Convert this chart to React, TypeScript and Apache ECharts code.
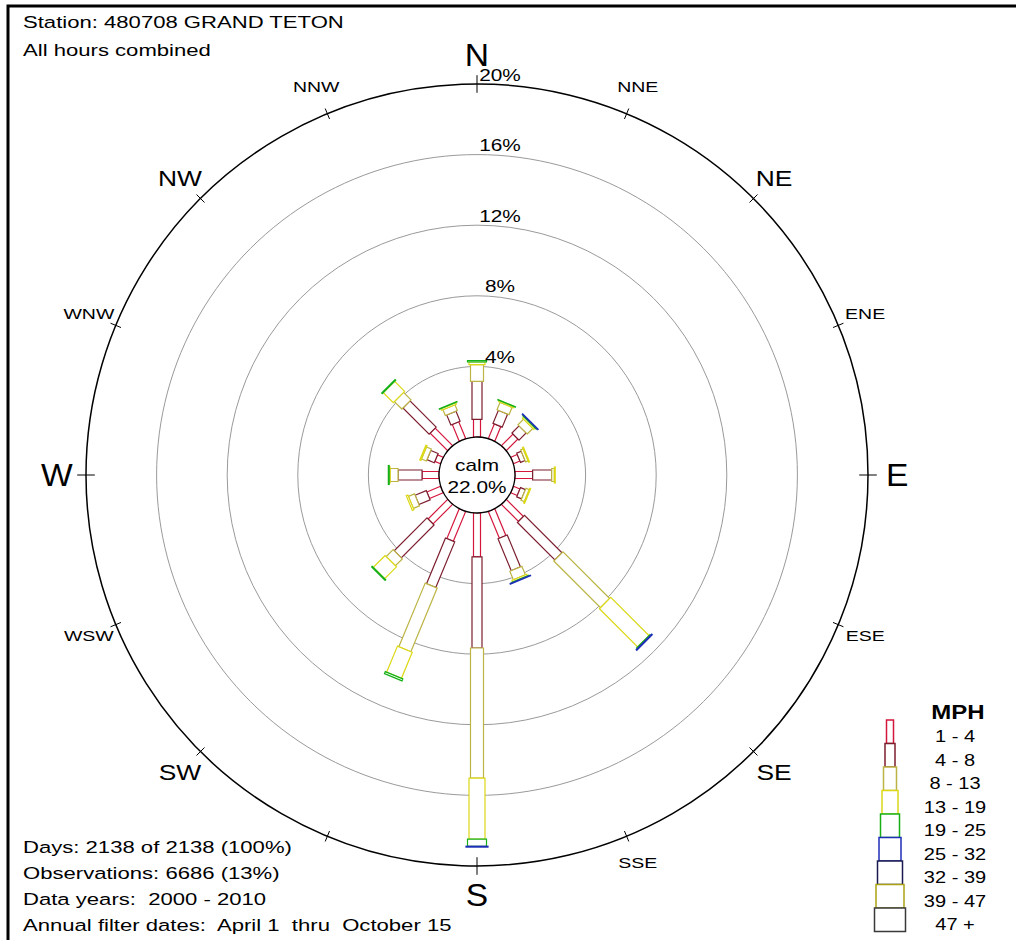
import React, { useEffect, useRef } from "react";
import * as echarts from "echarts";

// ---------- data ----------
const directions = ["N", "NNE", "NE", "ENE", "E", "ESE", "SE", "SSE", "S", "SSW", "SW", "WSW", "W", "WNW", "NW", "NNW"];
const directionLabels = ["N", "NNE", "NE", "ENE", "E", "ESE", "SE", "SSE", "S", "", "SW", "WSW", "W", "WNW", "NW", "NNW"];
const directionAngles = [0, 22.5, 45, 67.5, 90, 112.5, 135, 157.5, 180, 202.5, 225, 247.5, 270, 292.5, 315, 337.5];
const speedClasses = ["1 - 4", "4 - 8", "8 - 13", "13 - 19", "19 - 25", "25 - 32", "32 - 39", "39 - 47", "47 +"];

// percent of observations, per direction (N .. NNW)
const mph1_4 = [1.0, 0.9, 0.93, 0.4, 1.0, 0.4, 1.37, 1.64, 2.49, 1.83, 1.57, 0.84, 0.96, 0.35, 1.4, 1.03];
const mph4_8 = [2.15, 0.8, 0.57, 0.28, 1.08, 0.3, 3.0, 1.96, 5.16, 2.8, 2.63, 0.69, 1.36, 0.45, 2.1, 0.62];
const mph8_13 = [0.95, 0.45, 0.45, 0.15, 0.15, 0.2, 3.74, 0.52, 7.37, 3.9, 0.55, 0.37, 0.45, 0.3, 0.6, 0.35];
const mph13_19 = [0.15, 0.08, 0.1, 0.05, 0.05, 0.05, 3.06, 0.1, 3.46, 1.6, 0.95, 0.1, 0.05, 0.07, 0.8, 0.1];
const mph19_25 = [0.08, 0.02, 0.05, 0, 0, 0, 0.05, 0.03, 0.4, 0.12, 0.05, 0, 0.05, 0, 0.05, 0.03];
const mph25_32 = [0, 0, 0.03, 0, 0, 0, 0.05, 0.03, 0.05, 0, 0, 0, 0, 0, 0, 0];
const mph32_39 = [0, 0, 0, 0, 0, 0, 0, 0, 0, 0, 0, 0, 0, 0, 0, 0];
const mph39_47 = [0, 0, 0, 0, 0, 0, 0, 0, 0, 0, 0, 0, 0, 0, 0, 0];
const mph47_plus = [0, 0, 0, 0, 0, 0, 0, 0, 0, 0, 0, 0, 0, 0, 0, 0];

const calmPercent = 22.0;
const ringValues = [4, 8, 12, 16];
const ringLabelValues = [4, 8, 12, 16, 20];
const ringLabels = ["4%", "8%", "12%", "16%", "20%"];

const headerLines = ["Station: 480708 GRAND TETON", "All hours combined"];
const footerLines = [
  "Days: 2138 of 2138 (100%)",
  "Observations: 6686 (13%)",
  "Data years:  2000 - 2010",
  "Annual filter dates:  April 1  thru  October 15",
];

// ---------- style ----------
const classValues = [mph1_4, mph4_8, mph8_13, mph13_19, mph19_25, mph25_32, mph32_39, mph39_47, mph47_plus];
const classColors = ["#d4163c", "#7c1e2e", "#bcb444", "#dcd814", "#16b016", "#1e2eb8", "#1a1a52", "#aaa214", "#3a3a3a"];
const barWidths = [7, 10, 13, 16, 19, 22, 25, 28, 31];
const FONT = '"Liberation Sans", Arial, sans-serif';
const RMIN = -2.153;
const RMAX = 20;
const LABEL_R = 21.65;

function txtStyle(text: string, size: number, align: string, valign: string, weight = "normal", fill = "#000") {
  return {
    text,
    x: 0,
    y: 0,
    font: `${weight} ${size}px ${FONT}`,
    fill,
    align,
    verticalAlign: valign,
    textAlign: align,
    textVerticalAlign: valign,
  };
}

function buildOption() {
  const barSeries = classValues.map((vals, k) => {
    const data: number[][] = [];
    directions.forEach((_, d) => {
      let start = 0;
      for (let j = 0; j < k; j++) start += classValues[j][d];
      const v = vals[d];
      if (v > 0) data.push([start + v, directionAngles[d], start]);
    });
    return {
      type: "custom",
      name: speedClasses[k],
      coordinateSystem: "polar",
      silent: true,
      z: 3,
      data,
      renderItem: (params: any, api: any) => {
        const end = api.value(0);
        const ang = api.value(1);
        const start = api.value(2);
        const c = api.coord([RMIN, ang]);
        const far = api.coord([RMAX, ang]);
        const p0 = api.coord([start, ang]);
        const p1 = api.coord([end, ang]);
        const dx = far[0] - c[0];
        const dy = far[1] - c[1];
        const len = Math.sqrt(dx * dx + dy * dy) || 1;
        const nx = (-dy / len) * (barWidths[k] / 2);
        const ny = (dx / len) * (barWidths[k] / 2);
        return {
          type: "polygon",
          shape: {
            points: [
              [p0[0] + nx, p0[1] + ny],
              [p1[0] + nx, p1[1] + ny],
              [p1[0] - nx, p1[1] - ny],
              [p0[0] - nx, p0[1] - ny],
            ],
          },
          style: { fill: "#fff", stroke: classColors[k], lineWidth: 1.2 },
        };
      },
    };
  });

  const ringSeries = {
    type: "custom",
    coordinateSystem: "polar",
    silent: true,
    z: 1,
    data: ringValues.map((v) => [v, 0]),
    renderItem: (params: any, api: any) => {
      const c = api.coord([RMIN, 0]);
      const p = api.coord([api.value(0), 0]);
      const r = Math.hypot(p[0] - c[0], p[1] - c[1]);
      return {
        type: "circle",
        shape: { cx: c[0], cy: c[1], r },
        style: { fill: "none", stroke: "#9a9a9a", lineWidth: 1 },
      };
    },
  };

  const ringLabelSeries = {
    type: "custom",
    coordinateSystem: "polar",
    silent: true,
    z: 4,
    data: ringLabelValues.map((v, i) => [v, 0, i]),
    renderItem: (params: any, api: any) => {
      const p = api.coord([api.value(0), 0]);
      return {
        type: "text",
        x: p[0] + 23,
        y: p[1] - 1,
        scaleX: 1.3,
        style: txtStyle(ringLabels[api.value(2)], 16, "center", "bottom"),
      };
    },
  };

  const tickSeries = {
    type: "custom",
    coordinateSystem: "polar",
    silent: true,
    z: 2,
    data: directionAngles.map((a, i) => [RMAX, a, i % 4 === 0 ? 1 : 0]),
    renderItem: (params: any, api: any) => {
      const ang = api.value(1);
      const h = api.value(2) ? 0.5 : 0.32;
      const a = api.coord([RMAX - h, ang]);
      const b = api.coord([RMAX + h, ang]);
      return {
        type: "line",
        shape: { x1: a[0], y1: a[1], x2: b[0], y2: b[1] },
        style: { stroke: "#000", lineWidth: 1 },
      };
    },
  };

  const dirLabelSeries = {
    type: "custom",
    coordinateSystem: "polar",
    silent: true,
    z: 2,
    data: directionAngles.map((a, i) => [LABEL_R, a, i]),
    renderItem: (params: any, api: any) => {
      const i = api.value(2);
      const p = api.coord([api.value(0), api.value(1)]);
      const size = i % 4 === 0 ? 32 : i % 2 === 0 ? 22 : 15;
      const sx = i % 4 === 0 ? 1.05 : i % 2 === 0 ? 1.2 : 1.3;
      return {
        type: "text",
        x: p[0],
        y: p[1],
        scaleX: sx,
        style: txtStyle(directionLabels[i], size, "center", "middle"),
      };
    },
  };

  const calmSeries = {
    type: "custom",
    coordinateSystem: "polar",
    silent: true,
    z: 6,
    data: [[0, 0]],
    renderItem: (params: any, api: any) => {
      const c = api.coord([RMIN, 0]);
      const p = api.coord([0, 0]);
      const r = Math.hypot(p[0] - c[0], p[1] - c[1]);
      return {
        type: "group",
        children: [
          {
            type: "circle",
            shape: { cx: c[0], cy: c[1], r },
            style: { fill: "#fff", stroke: "#000", lineWidth: 1.3 },
          },
          {
            type: "text",
            x: c[0],
            y: c[1] - 10,
            scaleX: 1.3,
            style: txtStyle("calm", 16, "center", "middle"),
          },
          {
            type: "text",
            x: c[0],
            y: c[1] + 12,
            scaleX: 1.3,
            style: txtStyle(calmPercent.toFixed(1) + "%", 16, "center", "middle"),
          },
        ],
      };
    },
  };

  const graphics: any[] = [
    {
      type: "rect",
      silent: true,
      shape: { x: 8, y: 6, width: 1040, height: 960 },
      style: { fill: "none", stroke: "#000", lineWidth: 3 },
    },
  ];
  headerLines.forEach((t, i) => {
    graphics.push({
      type: "text",
      silent: true,
      x: 23,
      y: 22 + i * 28,
      scaleX: 1.3,
      style: txtStyle(t, 17, "left", "middle"),
    });
  });
  footerLines.forEach((t, i) => {
    graphics.push({
      type: "text",
      silent: true,
      x: 23,
      y: 847 + i * 26,
      scaleX: 1.3,
      style: txtStyle(t, 17, "left", "middle"),
    });
  });
  // legend
  const legTop = 720;
  const legStep = 23.5;
  const legCx = 890;
  graphics.push({
    type: "text",
    silent: true,
    x: 958,
    y: 712,
    scaleX: 1.2,
    style: txtStyle("MPH", 20, "center", "middle", "bold"),
  });
  speedClasses.forEach((name, i) => {
    const w = barWidths[i];
    graphics.push({
      type: "rect",
      silent: true,
      shape: { x: legCx - w / 2, y: legTop + i * legStep, width: w, height: legStep },
      style: { fill: "#fff", stroke: classColors[i], lineWidth: 1.5 },
    });
    graphics.push({
      type: "text",
      silent: true,
      x: 955,
      y: legTop + i * legStep + 17,
      scaleX: 1.25,
      style: txtStyle(name, 16, "center", "middle"),
    });
  });

  return {
    animation: false,
    backgroundColor: "#fff",
    polar: { center: [477, 475], radius: 391 },
    angleAxis: {
      type: "value",
      min: 0,
      max: 360,
      startAngle: 90,
      clockwise: true,
      axisLine: { show: true, lineStyle: { color: "#000", width: 1.5 } },
      axisTick: { show: false },
      axisLabel: { show: false },
      splitLine: { show: false },
    },
    radiusAxis: {
      type: "value",
      min: RMIN,
      max: RMAX,
      axisLine: { show: false },
      axisTick: { show: false },
      axisLabel: { show: false },
      splitLine: { show: false },
    },
    series: [ringSeries, tickSeries, dirLabelSeries, ...barSeries, calmSeries, ringLabelSeries],
    graphic: { elements: graphics },
  };
}

export default function App() {
  const ref = useRef<HTMLDivElement>(null);
  useEffect(() => {
    if (!ref.current) return;
    const chart = echarts.init(ref.current, null, { renderer: "svg" });
    chart.setOption(buildOption() as any);
    return () => chart.dispose();
  }, []);
  return (
    <div
      ref={ref}
      style={{ position: "absolute", left: 0, top: 0, width: 1016, height: 940, background: "#fff" }}
    />
  );
}
